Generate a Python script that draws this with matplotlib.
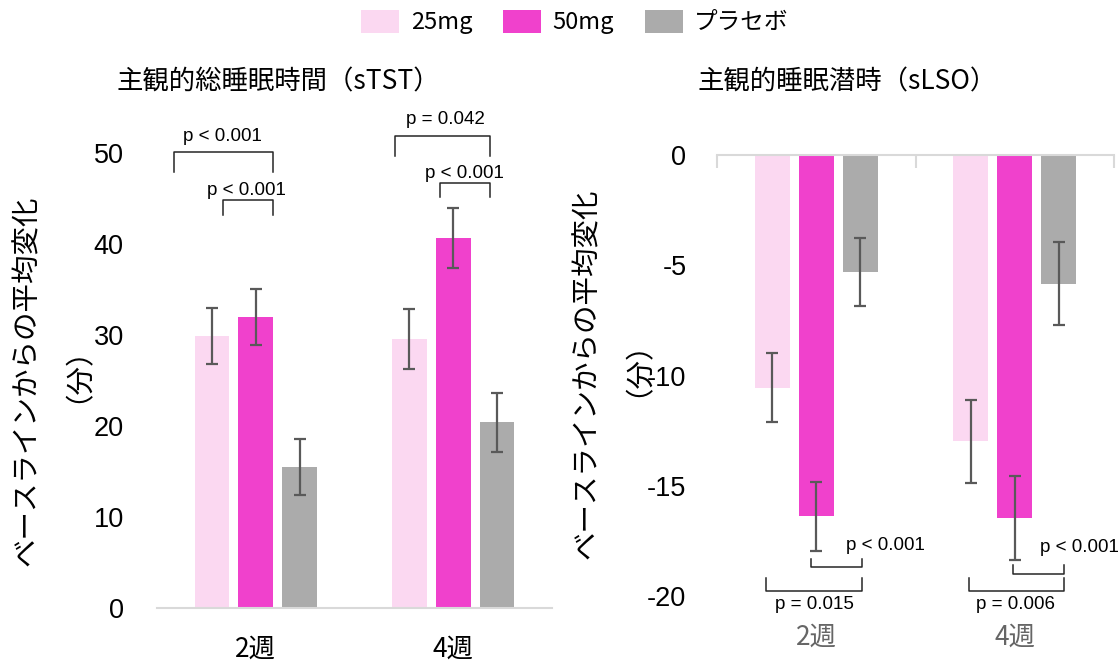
import numpy as np
import matplotlib
matplotlib.use('Agg')
import matplotlib.pyplot as plt
from matplotlib.patches import Patch
from matplotlib.ticker import FixedLocator

plt.rcParams['font.family'] = ['Liberation Sans', 'Noto Sans CJK JP']
plt.rcParams['axes.unicode_minus'] = False
JP = ['Noto Sans CJK JP', 'Liberation Sans']

# data
weeks = ['2週', '4週']
groups = ['25mg', '50mg', 'プラセボ']
colors = ['#FBD8F1', '#F041CC', '#ABABAB']

# sTST: mean change from baseline (min) and error
stst_25 = [29.9, 29.6]
stst_50 = [32.0, 40.7]
stst_pl = [15.5, 20.4]
stst_25_err = [3.1, 3.3]
stst_50_err = [3.1, 3.3]
stst_pl_err = [3.05, 3.25]

# sLSO
slso_25 = [-10.55, -12.98]
slso_50 = [-16.38, -16.46]
slso_pl = [-5.32, -5.83]
slso_25_err = [1.55, 1.89]
slso_50_err = [1.57, 1.9]
slso_pl_err = [1.55, 1.87]

# p-value brackets: x0, x1, y, leg, label, text x, text y
stst_brackets = [(-0.414, 0.088, 50.1, -2.2, 'p < 0.001', -0.17, 51.8),
                 (-0.167, 0.088, 44.8, -1.6, 'p < 0.001', -0.045, 45.85),
                 (0.707, 1.186, 51.9, -2.2, 'p = 0.042', 0.96, 53.7),
                 (0.934, 1.186, 46.7, -1.5, 'p < 0.001', 1.056, 47.7)]
slso_brackets = [(-0.027, 0.229, -18.7, 0.4, 'p < 0.001', 0.351, -17.7),
                 (-0.251, 0.229, -19.77, 0.57, 'p = 0.015', -0.009, -20.4),
                 (0.99, 1.246, -18.99, 0.41, 'p < 0.001', 1.327, -17.8),
                 (0.768, 1.246, -19.77, 0.57, 'p = 0.006', 1.006, -20.4)]

fig = plt.figure(figsize=(11.19, 6.62), dpi=100)
ax1 = fig.add_axes([157/1119, 1-608/662, 395/1119, 455/662])
ax2 = fig.add_axes([717/1119, 1-596/662, 397/1119, 441/662])

x = np.arange(len(weeks))
width = 0.175
step = 0.222


def draw(ax, means, errs):
    for i, (m, e) in enumerate(zip(means, errs)):
        xs = x + (i - 1) * step
        ax.bar(xs, m, width, color=colors[i], zorder=2)
        ax.errorbar(xs, m, yerr=e, fmt='none', ecolor='#595959',
                    elinewidth=1.6, capsize=4.5, capthick=1.6, zorder=3)


def brackets(ax, items):
    for x0, x1, y, leg, label, tx, ty in items:
        ax.plot([x0, x0, x1, x1], [y + leg, y, y, y + leg], color='#262626',
                lw=1.1, clip_on=False, zorder=4)
        ax.text(tx, ty, label, ha='center', va='center', fontsize=13.5,
                clip_on=False)


draw(ax1, [stst_25, stst_50, stst_pl], [stst_25_err, stst_50_err, stst_pl_err])
draw(ax2, [slso_25, slso_50, slso_pl], [slso_25_err, slso_50_err, slso_pl_err])
brackets(ax1, stst_brackets)
brackets(ax2, slso_brackets)

ax1.set_ylim(0, 50)
ax1.set_yticks([0, 10, 20, 30, 40, 50])
ax2.set_ylim(-20, 0)
ax2.set_yticks([0, -5, -10, -15, -20])

for ax, lc in [(ax1, 'black'), (ax2, '#666666')]:
    ax.set_xlim(-0.5, 1.5)
    ax.set_xticks(x)
    ax.set_xticklabels(weeks, family=JP, fontsize=19, color=lc)
    for s in ['left', 'right', 'top', 'bottom']:
        ax.spines[s].set_visible(False)
    ax.tick_params(axis='y', length=0, pad=24, labelsize=19.5)
    ax.tick_params(axis='x', which='major', length=0, pad=20)

ax1.spines['bottom'].set_visible(True)
ax1.spines['bottom'].set_color('#D9D9D9')
ax1.spines['bottom'].set_linewidth(1.5)

ax2.spines['top'].set_visible(True)
ax2.spines['top'].set_color('#D9D9D9')
ax2.spines['top'].set_linewidth(1.5)
ax2.xaxis.set_minor_locator(FixedLocator([-0.5, 0.5, 1.5]))
ax2.tick_params(axis='x', which='minor', bottom=False, top=True,
                direction='in', length=9, width=1.5, color='#D9D9D9')
ax2.tick_params(axis='y', pad=22)

fig.text(278/1119, 1-82/662, '主観的総睡眠時間（sTST）', family=JP,
         fontsize=19, ha='center', va='center')
fig.text(847/1119, 1-82/662, '主観的睡眠潜時（sLSO）', family=JP,
         fontsize=19, ha='center', va='center')

# y labels: two lines placed separately
for (x1_, x2_, yc, y2) in [(27, 63, 381, 360), (587, 623, 374, 354)]:
    fig.text(x1_/1119, 1-yc/662, 'ベースラインからの平均変化', family=JP,
             fontsize=20.5, rotation=90, ha='center', va='center')
    fig.text(x2_/1119, 1-y2/662, '（分）', family=JP,
             fontsize=20.5, rotation=90, ha='center', va='center')

handles = [Patch(facecolor=c, edgecolor='none') for c in colors]
fig.legend(handles, groups, loc='center', bbox_to_anchor=(575/1119, 1-22/662),
           ncol=3, frameon=False, handlelength=1.6,
           handleheight=1.15, handletextpad=0.5, columnspacing=1.3,
           prop={'family': JP, 'size': 17})

fig.savefig('out.png', dpi=100)
